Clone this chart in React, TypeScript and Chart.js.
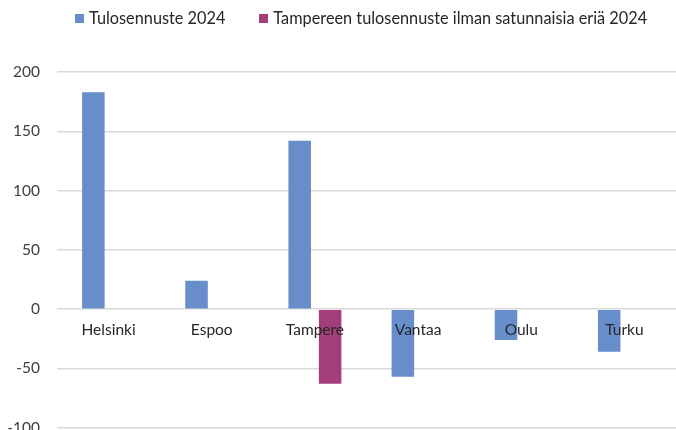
import React, { useEffect, useRef } from "react";
import { Chart, registerables } from "chart.js";

Chart.register(...registerables);

const categories = ["Helsinki", "Espoo", "Tampere", "Vantaa", "Oulu", "Turku"];
const forecast2024 = [183, 24, 142, -57, -26, -36];
const tampereAdjusted2024 = [null, null, -63, null, null, null];
const seriesNames = ["Tulosennuste 2024", "Tampereen tulosennuste ilman satunnaisia eriä 2024"];
const colors = ["#678ECB", "#A33E7A"];

const FONT = "Lato, 'Open Sans', sans-serif";

export default function App() {
  const ref = useRef<HTMLCanvasElement | null>(null);
  useEffect(() => {
    if (!ref.current) return;
    const chart = new Chart(ref.current, {
      type: "bar",
      data: {
        labels: categories,
        datasets: [
          { label: seriesNames[0], data: forecast2024, backgroundColor: colors[0] },
          { label: seriesNames[1], data: tampereAdjusted2024 as any, backgroundColor: colors[1] },
        ],
      },
      options: {
        animation: false,
        responsive: false,
        maintainAspectRatio: false,
        datasets: { bar: { categoryPercentage: 0.59, barPercentage: 0.74 } },
        layout: { padding: { top: 72, bottom: 3, left: 0, right: -2 } },
        plugins: { legend: { display: false }, tooltip: { enabled: false } },
        scales: {
          x: {
            position: { y: 0 } as any,
            grid: { display: false, drawTicks: false },
            border: { display: false },
            ticks: { z: 1, color: "#262626", font: { family: FONT, size: 15.5 }, padding: 12, maxRotation: 0 } as any,
          },
          y: {
            min: -100,
            max: 200,
            grid: { color: "#D9D9D9", lineWidth: 1.5, drawTicks: false },
            border: { display: false },
            ticks: { stepSize: 50, color: "#404040", font: { family: FONT, size: 15.5 }, padding: 17 },
            afterFit: (s: any) => { s.width = 57; },
          },
        },
      },
    });
    return () => chart.destroy();
  }, []);

  const legendItem = (i: number) => (
    <div style={{ display: "flex", alignItems: "center" }}>
      <span style={{ width: 9, height: 9, background: colors[i], display: "inline-block", marginRight: 5 }} />
      <span>{seriesNames[i]}</span>
    </div>
  );

  return (
    <div style={{ position: "fixed", left: 0, top: 0, width: 676, height: 430, background: "#fff", overflow: "hidden" }}>
      <div
        style={{
          position: "absolute",
          left: 75,
          top: 8,
          display: "flex",
          gap: 34,
          fontFamily: FONT,
          fontSize: 16.3,
          color: "#262626",
          lineHeight: "20px",
          whiteSpace: "nowrap",
          zIndex: 1,
        }}
      >
        {legendItem(0)}
        {legendItem(1)}
      </div>
      <canvas ref={ref} width={676} height={454} style={{ display: "block" }} />
    </div>
  );
}
